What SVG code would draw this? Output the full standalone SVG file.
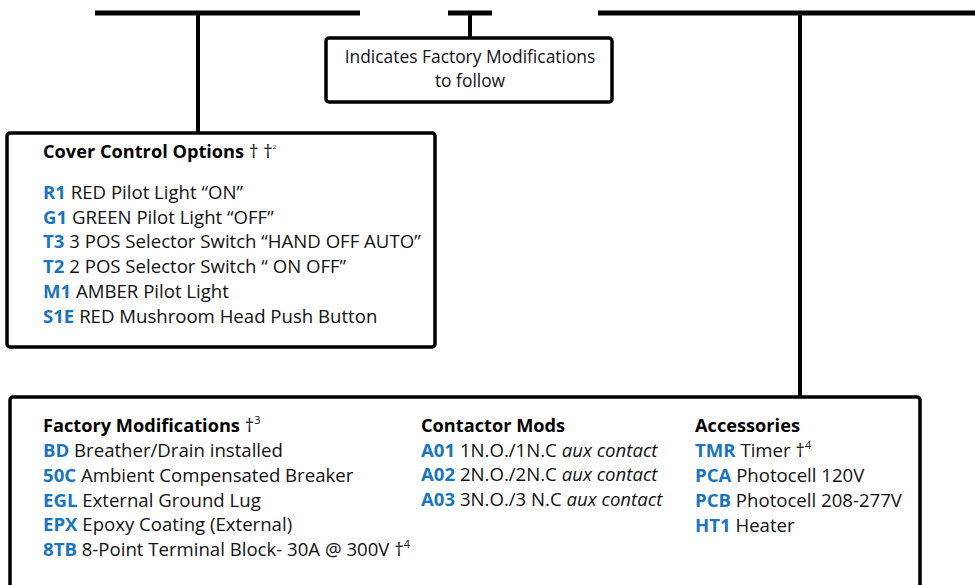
<svg xmlns="http://www.w3.org/2000/svg" width="975" height="585" viewBox="0 0 975 585">
<style>
.bar{stroke:#000;stroke-width:5;fill:none}
.stem{stroke:#000;stroke-width:4;fill:none}
.box{fill:#fff;stroke:#000;stroke-width:3.5}
text{font-family:"Open Sans","Liberation Sans",sans-serif;font-size:18.6px;fill:#111}
.h{font-weight:bold;fill:#000;font-size:18.2px}
.c{font-weight:bold;fill:#1b75bc}
.i{font-style:italic}
.sup{font-size:11px}
.n{font-size:17.4px}
</style>
<rect width="975" height="585" fill="#fff"/>
<g id="connectors">
<line class="bar" x1="95" y1="13" x2="360" y2="13"/>
<line class="bar" x1="448" y1="13" x2="492" y2="13"/>
<line class="bar" x1="598" y1="13" x2="975" y2="13"/>
<line class="stem" x1="198" y1="13" x2="198" y2="133"/>
<line class="stem" x1="470" y1="13" x2="470" y2="38"/>
<line class="stem" x1="800" y1="13" x2="800" y2="397"/>
</g>
<g id="note">
<rect class="box" x="326" y="38" width="286" height="64" rx="3"/>
<text class="n" x="470" y="63" text-anchor="middle">Indicates Factory Modifications</text>
<text class="n" x="470" y="87" text-anchor="middle">to follow</text>
</g>
<g id="cover-control">
<rect class="box" x="7" y="133" width="428" height="214" rx="3"/>
<text x="43" y="158"><tspan class="h">Cover Control Options</tspan> † †<tspan font-size="6" dy="-9">2</tspan></text>
<text x="43" y="199"><tspan class="c">R1</tspan> RED Pilot Light “ON”</text>
<text x="43" y="224"><tspan class="c">G1</tspan> GREEN Pilot Light “OFF”</text>
<text x="43" y="248"><tspan class="c">T3</tspan> 3 POS Selector Switch “HAND OFF AUTO”</text>
<text x="43" y="273"><tspan class="c">T2</tspan> 2 POS Selector Switch “ ON OFF”</text>
<text x="43" y="298"><tspan class="c">M1</tspan> AMBER Pilot Light</text>
<text x="43" y="323"><tspan class="c">S1E</tspan> RED Mushroom Head Push Button</text>
</g>
<g id="modifications">
<rect class="box" x="10" y="397" width="910" height="220" rx="3"/>
<text x="43" y="432"><tspan class="h">Factory Modifications</tspan> †<tspan class="sup" dy="-8">3</tspan></text>
<text x="43" y="457"><tspan class="c">BD</tspan> Breather/Drain installed</text>
<text x="43" y="482"><tspan class="c">50C</tspan> Ambient Compensated Breaker</text>
<text x="43" y="507"><tspan class="c">EGL</tspan> External Ground Lug</text>
<text x="43" y="531"><tspan class="c">EPX</tspan> Epoxy Coating (External)</text>
<text x="43" y="556"><tspan class="c">8TB</tspan> 8-Point Terminal Block- 30A @ 300V †<tspan class="sup" dy="-8">4</tspan></text>
<text x="421" y="432" class="h">Contactor Mods</text>
<text x="421" y="457"><tspan class="c">A01</tspan> 1N.O./1N.C <tspan class="i">aux contact</tspan></text>
<text x="421" y="481"><tspan class="c">A02</tspan> 2N.O./2N.C <tspan class="i">aux contact</tspan></text>
<text x="421" y="506"><tspan class="c">A03</tspan> 3N.O./3 N.C <tspan class="i">aux contact</tspan></text>
<text x="695" y="432" class="h">Accessories</text>
<text x="695" y="457"><tspan class="c">TMR</tspan> Timer †<tspan class="sup" dy="-8">4</tspan></text>
<text x="695" y="482"><tspan class="c">PCA</tspan> Photocell 120V</text>
<text x="695" y="507"><tspan class="c">PCB</tspan> Photocell 208-277V</text>
<text x="695" y="532"><tspan class="c">HT1</tspan> Heater</text>
</g>
</svg>
